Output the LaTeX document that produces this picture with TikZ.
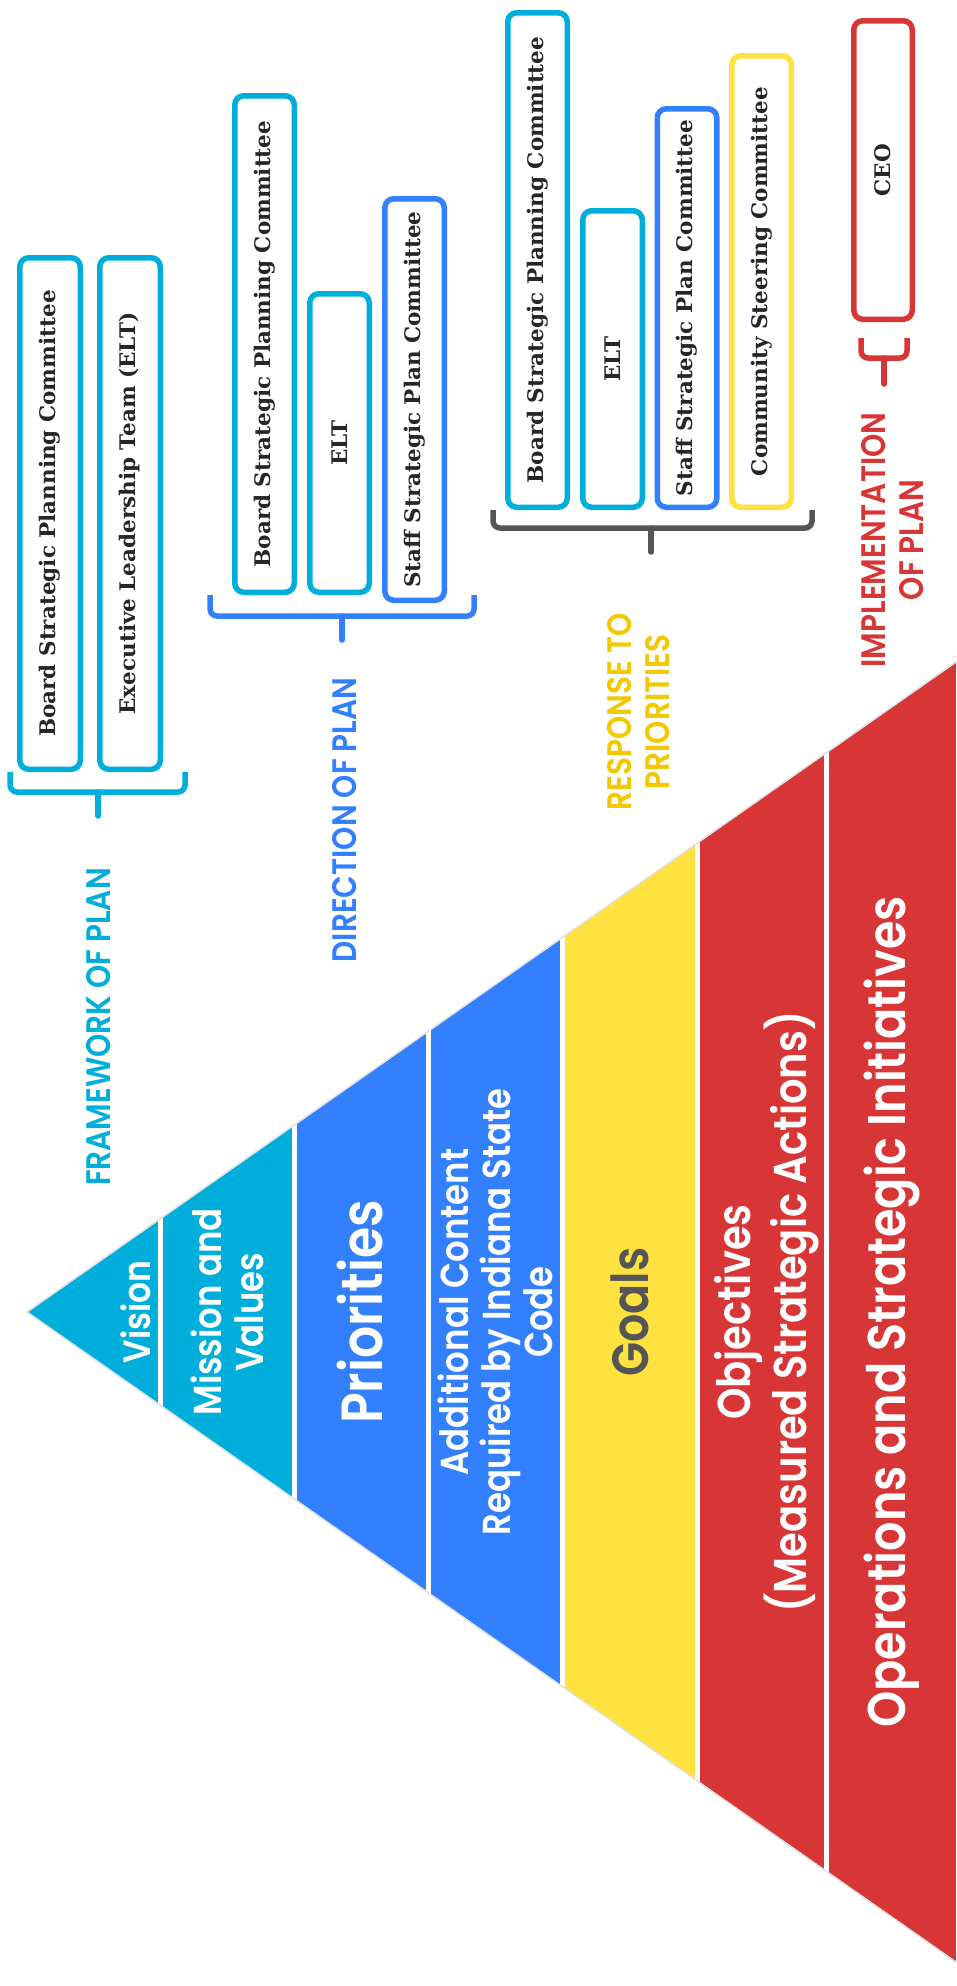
\documentclass[tikz,border=0pt]{standalone}
\usepackage{fontspec}
\newfontfamily\bandfont{Poppins}[FakeStretch=0.87, BoldFont={Poppins SemiBold}]
\newfontfamily\boxfont{DejaVu Serif}

\definecolor{fwcyan}{RGB}{0,174,219}
\definecolor{dirblue}{RGB}{51,128,255}
\definecolor{goalyellow}{RGB}{255,226,64}
\definecolor{labelyellow}{RGB}{242,200,0}
\definecolor{objred}{RGB}{216,54,54}
\definecolor{bracegray}{RGB}{85,85,85}

\tikzset{
  combox/.style={draw, fill=white, line width=5.5pt, rounded corners=9pt,
    minimum width=59.5pt, text=black!85, font=\boxfont\bfseries\fontsize{21.5}{25}\selectfont},
  brace/.style={line width=5.5pt, rounded corners=7pt},
  stem/.style={line width=5.5pt, line cap=round},
  grouplabel/.style={rotate=90, align=center, font=\bandfont\bfseries\fontsize{34}{38}\selectfont},
  band/.style={rotate=90, align=center, text=white}
}

\begin{document}
\begin{tikzpicture}[x=1pt, y=-1pt]
  \useasboundingbox (0,0) rectangle (956,1986);

  % pyramid
  \coordinate (apex) at (27,1312);
  \coordinate (topr) at (956,662);
  \coordinate (botr) at (956,1962);
  \begin{scope}
    \clip (apex) -- (topr) -- (botr) -- cycle;
    \fill[fwcyan] (0,600) rectangle (294,2000);
    \fill[dirblue] (294,600) rectangle (562,2000);
    \fill[goalyellow] (562,600) rectangle (697,2000);
    \fill[objred] (697,600) rectangle (956,2000);
    \foreach \x in {160,294,428,562,697,826}
      \draw[white, line width=5pt] (\x,600) -- (\x,2000);
  \end{scope}
  \draw[black!12, line width=1.5pt] (topr) -- (apex) -- (botr);

  \node[band, font=\bandfont\bfseries\fontsize{38}{42}\selectfont] (vision) at (136,1312) {Vision};
  \node[band, font=\bandfont\bfseries\fontsize{39}{42}\selectfont] (mission) at (227,1312) {Mission and\\Values};
  \node[band, font=\bandfont\bfseries\fontsize{58}{60}\selectfont] (priorities) at (360,1312) {Priorities};
  \node[band, font=\bandfont\bfseries\fontsize{39}{42}\selectfont] (statecode) at (495,1312) {Additional Content\\Required by Indiana State\\Code};
  \node[band, text=bracegray, font=\bandfont\bfseries\fontsize{51}{54}\selectfont] (goals) at (630,1312) {Goals};
  \node[band, font=\bandfont\bfseries\fontsize{46}{47}\selectfont] (objectives) at (767,1312) {Objectives\\(Measured Strategic Actions)};
  \node[band, font=\bandfont\bfseries\fontsize{53}{56}\selectfont] (operations) at (892,1312) {Operations and Strategic Initiatives};

  % framework of plan
  \node[combox, draw=fwcyan, minimum width=60.5pt, minimum height=511.5pt] (fwboard) at (50,513.5) {\rotatebox{90}{Board Strategic Planning Committee}};
  \node[combox, draw=fwcyan, minimum width=60.5pt, minimum height=511.5pt] (fwelt) at (130,513.5) {\rotatebox{90}{Executive Leadership Team (ELT)}};
  \draw[brace, fwcyan] ([xshift=-7pt]fwboard.south west) -- ++(0,20) -| ([xshift=22pt]fwelt.south east);
  \draw[stem, fwcyan] (98,792) -- (98,816);
  \node[grouplabel, text=fwcyan] (fwlabel) at (99,1027) {FRAMEWORK OF PLAN};

  % direction of plan
  \node[combox, draw=fwcyan, minimum height=496.5pt] (dirboard) at (264.5,344) {\rotatebox{90}{Board Strategic Planning Committee}};
  \node[combox, draw=fwcyan, minimum height=298.5pt] (direlt) at (339.5,443) {\rotatebox{90}{ELT}};
  \node[combox, draw=dirblue, minimum height=401.5pt] (dirstaff) at (414.5,399.5) {\rotatebox{90}{Staff Strategic Plan Committee}};
  \draw[brace, dirblue] ([xshift=-22pt]dirboard.south west) -- ++(0,21) -| ([xshift=27pt,yshift=8pt]dirstaff.south east);
  \draw[stem, dirblue] (342,616) -- (342,640);
  \node[grouplabel, text=dirblue] (dirlabel) at (345,820) {DIRECTION OF PLAN};

  % response to priorities
  \node[combox, draw=fwcyan, minimum height=494.5pt] (resboard) at (537.5,260) {\rotatebox{90}{Board Strategic Planning Committee}};
  \node[combox, draw=fwcyan, minimum height=296.5pt] (reselt) at (612.5,359) {\rotatebox{90}{ELT}};
  \node[combox, draw=dirblue, minimum height=398.5pt] (resstaff) at (687,308) {\rotatebox{90}{Staff Strategic Plan Committee}};
  \node[combox, draw=goalyellow, minimum height=451.5pt] (rescomm) at (761.5,281.5) {\rotatebox{90}{Community Steering Committee}};
  \draw[brace, bracegray] ([xshift=-12pt]resboard.south west) -- ++(0,18) -| ([xshift=18pt]rescomm.south east);
  \draw[stem, bracegray] (651,528) -- (651,552);
  \node[grouplabel, text=labelyellow] (reslabel) at (639,712) {RESPONSE TO\\PRIORITIES};

  % implementation of plan
  \node[combox, draw=objred, minimum width=58.5pt, minimum height=298.5pt] (ceo) at (883,170) {\rotatebox{90}{CEO}};
  \draw[brace, objred] ([shift={(10pt,-16pt)}]ceo.south west) -- ++(0,20) -| ([shift={(-8pt,-16pt)}]ceo.south east);
  \draw[stem, objred] (884,358) -- (884,384);
  \node[grouplabel, text=objred] (implabel) at (893,540) {IMPLEMENTATION\\OF PLAN};
\end{tikzpicture}
\end{document}
